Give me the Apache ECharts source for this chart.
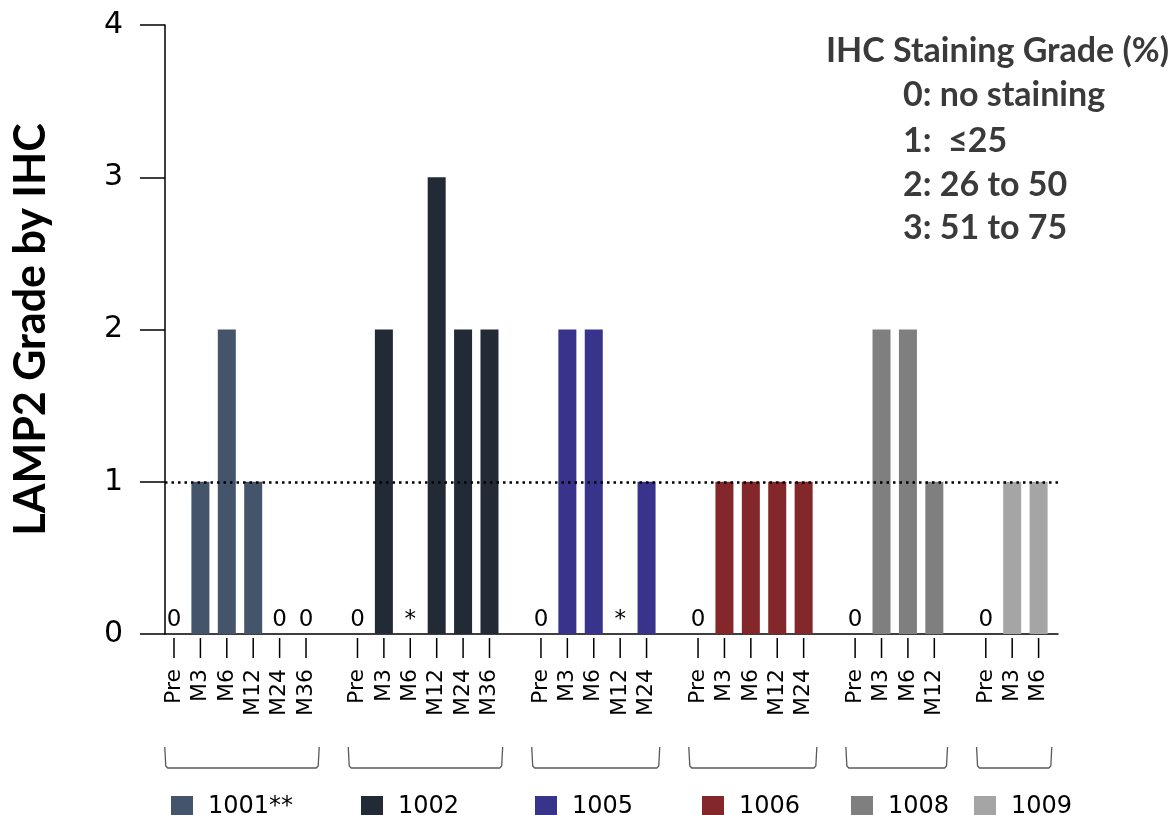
<!DOCTYPE html>
<html>
<head>
<meta charset="utf-8">
<title>LAMP2 Grade by IHC</title>
<script src="https://cdn.jsdelivr.net/npm/echarts@6/dist/echarts.min.js"></script>
<style>
  html, body { margin: 0; padding: 0; background: #fff; }
  #chart { width: 1175px; height: 815px; }
</style>
</head>
<body>
<div id="chart"></div>
<script>
// patients and their visits
const patients = ['1001**', '1002', '1005', '1006', '1008', '1009'];
const visitLabels = ['Pre', 'M3', 'M6', 'M12', 'M24', 'M36'];

// LAMP2 IHC grade per visit (null = sample not available, shown as *)
const grade1001 = [0, 1, 2, 1, 0, 0];
const grade1002 = [0, 2, null, 3, 2, 2];
const grade1005 = [0, 2, 2, null, 1];
const grade1006 = [0, 1, 1, 1, 1];
const grade1008 = [0, 2, 2, 1];
const grade1009 = [0, 1, 1];
const grades = [grade1001, grade1002, grade1005, grade1006, grade1008, grade1009];

const yTicks = [0, 1, 2, 3, 4];
const threshold = 1;

const keyTitle = 'IHC Staining Grade (%)';
const keyLines = ['0: no staining', '1:  ≤25', '2: 26 to 50', '3: 51 to 75'];

const colors = ['#44546A', '#222A35', '#38338B', '#84272A', '#7F7F7F', '#A5A5A5'];

// layout: one slot per visit, extra space between patients
const GAP = 0.95;
const X_MIN = -0.341;
const X_MAX = 33.485;
const legendLeft = [166, 356, 530, 697, 846, 969];
const keyLineY = [95, 141, 185, 228];

// flatten visits into positioned categories
const cats = [];
let k = 0;
grades.forEach((arr, g) => {
  arr.forEach((v, i) => {
    cats.push({
      x: k + GAP * g,
      g: g,
      visit: visitLabels[i],
      note: v === null ? '*' : (v === 0 ? '0' : '')
    });
    k++;
  });
});
const xOf = (g, i) => cats.find(c => c.g === g && c.visit === visitLabels[i]).x;

const chart = echarts.init(document.getElementById('chart'));

const barSeries = grades.map((arr, g) => ({
  name: patients[g],
  type: 'bar',
  barWidth: 18,
  barGap: '-100%',
  data: arr.map((v, i) => [xOf(g, i), v]),
  itemStyle: { color: colors[g] },
  markLine: g === 0 ? {
    silent: true,
    symbol: 'none',
    label: { show: false },
    lineStyle: { color: '#000', type: [2.5, 4], width: 2.5 },
    data: [{ yAxis: threshold }]
  } : undefined
}));

// axis ticks, rotated visit labels and the 0 / * notes
const tickSeries = {
  type: 'custom',
  silent: true,
  data: cats.map(c => [c.x, 0]),
  renderItem: (params, api) => {
    const c = cats[params.dataIndex];
    const p = api.coord([c.x, 0]);
    const children = [
      {
        type: 'line',
        shape: { x1: p[0], y1: p[1] + 4, x2: p[0], y2: p[1] + 24 },
        style: { stroke: '#000', lineWidth: 1.5 }
      },
      {
        type: 'text',
        x: p[0],
        y: p[1] + 35,
        rotation: Math.PI / 2,
        style: {
          text: c.visit, align: 'right', verticalAlign: 'middle',
          fontSize: 22, fontFamily: 'DejaVu Sans', fill: '#000'
        }
      }
    ];
    if (c.note) {
      children.push({
        type: 'text',
        x: p[0],
        y: p[1] - 2,
        style: {
          text: c.note, align: 'center', verticalAlign: 'bottom',
          fontSize: 23, fontFamily: 'DejaVu Sans', fill: '#000'
        }
      });
    }
    return { type: 'group', children: children };
  }
};

// brackets under each patient's visits
const bracketSeries = {
  type: 'custom',
  silent: true,
  data: grades.map((arr, g) => [xOf(g, 0) - 0.35, xOf(g, arr.length - 1) + 0.5]),
  renderItem: (params, api) => {
    const a = api.coord([api.value(0), 0]);
    const b = api.coord([api.value(1), 0]);
    const top = a[1] + 113;
    const bot = a[1] + 134;
    return {
      type: 'polyline',
      shape: { points: [[a[0], top], [a[0] + 1, bot - 2], [a[0] + 3, bot], [b[0] - 3, bot], [b[0] - 1, bot - 2], [b[0], top]] },
      style: { stroke: '#595959', lineWidth: 1.3, fill: null }
    };
  }
};

const keyStyle = { fontSize: 34, fontWeight: 'bold', fontFamily: 'Lato', fill: '#3a3a3a', verticalAlign: 'middle' };

const option = {
  animation: false,
  backgroundColor: '#fff',
  grid: { left: 165, right: 117, top: 25, bottom: 181 },
  legend: patients.map((name, g) => ({
    data: [name],
    left: legendLeft[g],
    top: 790,
    icon: 'rect',
    itemWidth: 22,
    itemHeight: 22,
    selectedMode: false,
    textStyle: { fontSize: 24, fontFamily: 'DejaVu Sans', color: '#000', padding: [0, 0, 0, 10] }
  })),
  xAxis: {
    type: 'value',
    min: X_MIN,
    max: X_MAX,
    axisLine: { show: true, onZero: false, lineStyle: { color: '#000', width: 1.5 } },
    axisTick: { show: false },
    axisLabel: { show: false },
    splitLine: { show: false }
  },
  yAxis: {
    type: 'value',
    min: yTicks[0],
    max: yTicks[yTicks.length - 1],
    interval: 1,
    name: 'LAMP2 Grade by IHC',
    nameLocation: 'middle',
    nameGap: 112,
    nameTextStyle: { fontFamily: 'Lato', fontWeight: 'bold', fontSize: 43, color: '#000' },
    axisLine: { show: true, onZero: false, lineStyle: { color: '#000', width: 1.5 } },
    axisTick: { show: true, length: 25, lineStyle: { color: '#000', width: 1.5 } },
    axisLabel: { margin: 42, fontSize: 30, fontFamily: 'DejaVu Sans', color: '#000', padding: [0, 0, 18, 0] },
    splitLine: { show: false }
  },
  graphic: [
    { type: 'text', x: 826, y: 51, style: Object.assign({ text: keyTitle }, keyStyle) }
  ].concat(keyLines.map((t, i) => ({
    type: 'text', x: 903, y: keyLineY[i], style: Object.assign({ text: t }, keyStyle)
  }))),
  series: barSeries.concat([tickSeries, bracketSeries])
};

chart.setOption(option);
</script>
</body>
</html>
